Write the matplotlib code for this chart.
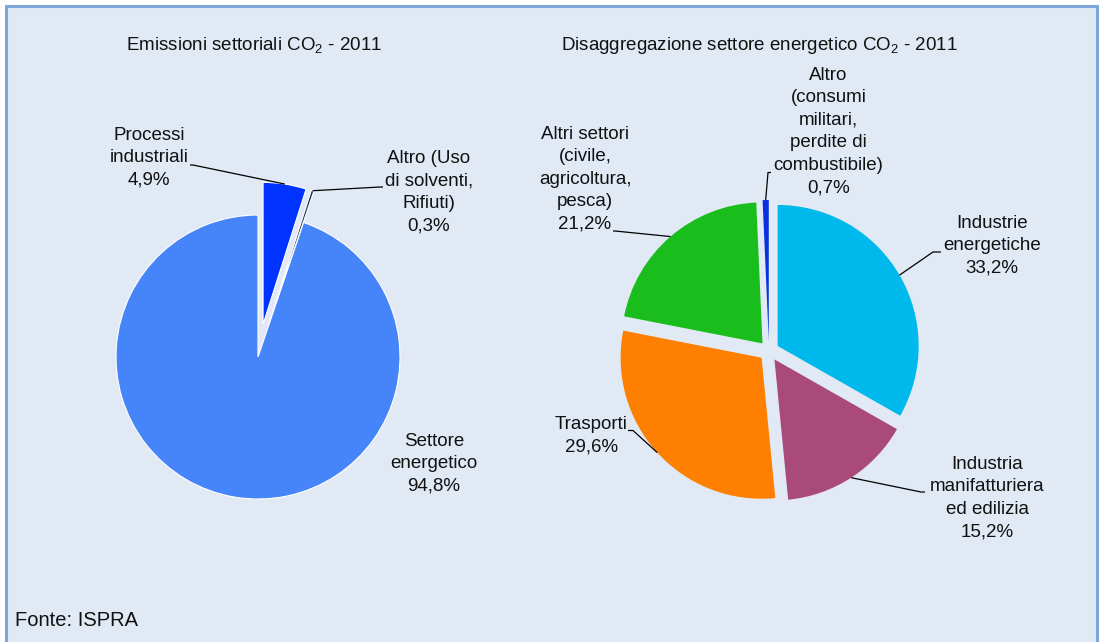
import matplotlib
matplotlib.use('Agg')
import matplotlib.pyplot as plt
import numpy as np
from matplotlib.patches import Rectangle

plt.rcParams['font.family'] = ['Liberation Sans', 'DejaVu Sans']
plt.rcParams['mathtext.fontset'] = 'custom'
plt.rcParams['mathtext.rm'] = 'Liberation Sans'
plt.rcParams['mathtext.it'] = 'Liberation Sans:italic'
plt.rcParams['mathtext.bf'] = 'Liberation Sans:bold'

# ---------------- data ----------------
left_title = 'Emissioni settoriali CO$_2$ - 2011'
left_labels = ['Processi\nindustriali', 'Altro (Uso\ndi solventi,\nRifiuti)', 'Settore\nenergetico']
left_values = [4.9, 0.3, 94.8]
left_colors = ['#0033ff', '#1c3350', '#4684fa']

right_title = 'Disaggregazione settore energetico CO$_2$ - 2011'
right_labels = ['Industrie\nenergetiche', 'Industria\nmanifatturiera\ned edilizia', 'Trasporti',
                'Altri settori\n(civile,\nagricoltura,\npesca)',
                'Altro\n(consumi\nmilitari,\nperdite di\ncombustibile)']
right_values = [33.2, 15.2, 29.6, 21.2, 0.7]
right_colors = ['#00b9ec', '#aa4a78', '#ff7f00', '#1abe1c', '#0a30e0']

source = 'Fonte: ISPRA'

# ---------------- layout (pixel coords, y from top) ----------------
W, H = 1103, 642
BG = '#e1e9f5'
FS = 13.5
LS = 1.42


def Y(y):
    return H - y


fig = plt.figure(figsize=(W / 100, H / 100), dpi=100)
fig.patch.set_facecolor('white')
ax = fig.add_axes([0, 0, 1, 1])

ax.add_patch(Rectangle((6, -10), 1091, H - 6 + 10, facecolor=BG, edgecolor='#7ea5d8',
                       linewidth=2.2, zorder=0))


def fmt(v):
    return f'{v:.1f}%'.replace('.', ',')


def draw_pie(values, colors, labels, center, radius, explode, lw, label_pos, anchors):
    wedges, _ = ax.pie(values, colors=colors, startangle=90, counterclock=False,
                       center=(center[0], Y(center[1])), radius=radius, explode=explode,
                       wedgeprops=dict(edgecolor='white', linewidth=lw), frame=True)
    for w, lab, v, pos, anc in zip(wedges, labels, values, label_pos, anchors):
        ax.text(pos[0], Y(pos[1]), f'{lab}\n{fmt(v)}', ha='center', va='center',
                multialignment='center', fontsize=FS, linespacing=LS, color='#111111', zorder=5)
        if anc is not None:
            th = np.deg2rad((w.theta1 + w.theta2) / 2)
            cx, cy = w.center
            px, py = cx + w.r * np.cos(th), cy + w.r * np.sin(th)
            ax.plot([anc[0], anc[0] + anc[2], px], [Y(anc[1]), Y(anc[1]), py],
                    color='black', lw=0.9, solid_capstyle='butt', zorder=4)
    return wedges


draw_pie(left_values, left_colors, left_labels, center=(258, 357), radius=142,
         explode=[33, 33, 0], lw=0.8,
         label_pos=[(149, 158), (429, 192.5), (434, 464)],
         anchors=[(190, 165, 3), (383, 187, -3), None])

draw_pie(right_values, right_colors, right_labels, center=(769, 351), radius=141,
         explode=[10, 10, 10, 10, 10], lw=0,
         label_pos=[(992, 245.5), (987.5, 498), (591.5, 435.5), (585, 179), (828.5, 131.5)],
         anchors=[(941, 252, -8), (925, 492, -4), (628, 430.5, 5), (613, 231, 2), (771, 172.5, -3)])

ax.text(254, Y(45), left_title, ha='center', va='center', fontsize=FS, color='#111111')
ax.text(759, Y(45), right_title, ha='center', va='center', fontsize=FS, color='#111111')
ax.text(15, Y(620), source, ha='left', va='center', fontsize=14.5, color='#111111')

ax.set_xlim(0, W)
ax.set_ylim(0, H)
ax.set_aspect('equal')
ax.axis('off')

fig.savefig('out.png', dpi=100, facecolor='white')
